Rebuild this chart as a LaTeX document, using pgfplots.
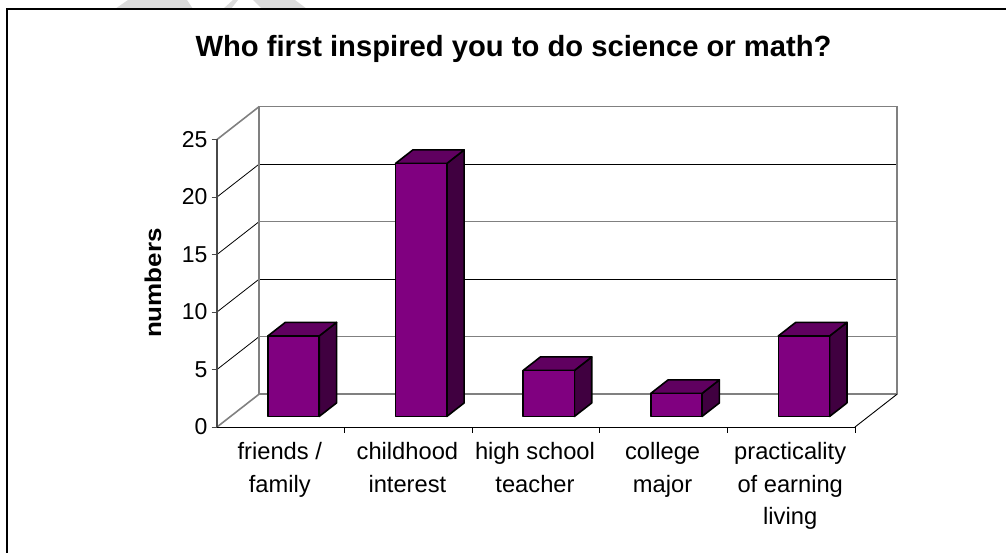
\documentclass[border=0pt]{standalone}
\usepackage{fontspec}
\setmainfont{Liberation Sans}
\usepackage{graphicx}
\usepackage{pgfplots}
\pgfplotsset{compat=1.18}

\definecolor{barfront}{HTML}{800080}
\definecolor{barside}{HTML}{400040}
\definecolor{bartop}{HTML}{600060}
\definecolor{wall}{HTML}{808080}
\definecolor{valueaxis}{HTML}{484848}

% One block: left edge, right edge, value. Depth runs along the y axis.
\newcommand{\block}[3]{%
  \addplot3[fill=barside,draw=black,line width=1.6pt,line join=round]
    coordinates {(#2,0.32,0) (#2,0.73,0) (#2,0.73,#3) (#2,0.32,#3)} -- cycle;
  \addplot3[fill=bartop,draw=black,line width=1.6pt,line join=round]
    coordinates {(#1,0.32,#3) (#2,0.32,#3) (#2,0.73,#3) (#1,0.73,#3)} -- cycle;
  \addplot3[fill=barfront,draw=black,line width=1.6pt,line join=round]
    coordinates {(#1,0.32,0) (#2,0.32,0) (#2,0.32,#3) (#1,0.32,#3)} -- cycle;
}
% One grid level: side wall diagonal, then back wall line.
\newcommand{\level}[5]{%
  \addplot3[color=#2,line width=#3] coordinates {(0,0,#1) (0,1,#1)};
  \addplot3[color=#4,line width=#5] coordinates {(0,1,#1) (5,1,#1)};
  \addplot3[color=valueaxis,line width=0.9pt] coordinates {(-0.043,0,#1) (0,0,#1)};
}
% Tick below the category axis.
\newcommand{\xmark}[1]{%
  \addplot3[color=black,line width=0.9pt] coordinates {(#1,0,0) (#1,0,-0.5)};
}

\begin{document}
\begin{tikzpicture}[x=1pt,y=1pt]
  \path[use as bounding box] (0,0) rectangle (1006,552);
  % printed pattern showing above the frame
  \fill[gray!28] (115,543) -- (128,552) -- (187,552) -- (193,543) -- cycle;
  \fill[gray!28] (223,543) -- (233,552) -- (238,552) -- (231,543) -- cycle;
  \fill[gray!28] (253,552) -- (295,552) -- (307,543) -- (262,543) -- cycle;
  % frame: left and top sides run off the page
  \draw[black,line width=2pt] (6.5,-2) -- (6.5,543) -- (1008,543);

  \node[anchor=base,font=\fontsize{29.2}{32}\selectfont\bfseries] at (513.5,495)
    {Who first inspired you to do science or math?};
  \node[rotate=90,font=\fontsize{26}{28}\selectfont\bfseries] at (153,269)
    {\scalebox{1}[0.88]{numbers}};

  \begin{axis}[
    at={(217pt,125pt)}, anchor=origin,
    x={(127.6pt,0pt)}, y={(42.3pt,33pt)}, z={(0pt,11.5pt)},
    xmin=0, xmax=5, ymin=0, ymax=1, zmin=0, zmax=25,
    clip=false,
    axis x line*=bottom, axis z line*=left, axis y line=none,
    xtick={0,1,2,3,4,5},
    x tick label as interval,
    xticklabels={{friends /\\family},{childhood\\interest},{high school\\teacher},{college\\major},{practicality\\of earning\\living}},
    ztick={0,5,10,15,20,25},
    ytick=\empty,
    major tick length=0pt,
    /pgf/number format/assume math mode=true,
    tick label style={font=\fontsize{23}{32.5}\selectfont},
    x tick label style={font=\fontsize{23.7}{32.5}\selectfont,align=center,anchor=north,yshift=-12pt,xshift=-1pt},
    z tick label style={anchor=east,xshift=-6pt},
  ]
    % walls and floor
    \level{25}{wall}{1.6pt}{wall}{1.8pt}
    \level{20}{black}{0.8pt}{black}{0.9pt}
    \level{15}{black}{0.8pt}{wall}{1.8pt}
    \level{10}{black}{0.8pt}{black}{0.9pt}
    \level{5}{black}{0.8pt}{wall}{1.8pt}
    \level{0}{wall}{1.6pt}{wall}{1.8pt}
    \addplot3[color=wall,line width=1.8pt] coordinates {(0,1,0) (0,1,25)};
    \addplot3[color=wall,line width=1.8pt] coordinates {(5,1,0) (5,1,25)};
    \addplot3[color=black,line width=0.9pt] coordinates {(5,0,0) (5,1,0)};
    % the two axis lines
    \addplot3[color=valueaxis,line width=1.7pt] coordinates {(0,0,0) (0,0,25)};
    \addplot3[color=black,line width=1pt] coordinates {(0,0,0) (5,0,0)};
    \xmark{1}\xmark{2}\xmark{3}\xmark{4}\xmark{5}
    % survey counts
    \block{0.293}{0.695}{7}
    \block{1.293}{1.695}{22}
    \block{2.293}{2.695}{4}
    \block{3.293}{3.695}{2}
    \block{4.293}{4.695}{7}
  \end{axis}
\end{tikzpicture}
\end{document}
